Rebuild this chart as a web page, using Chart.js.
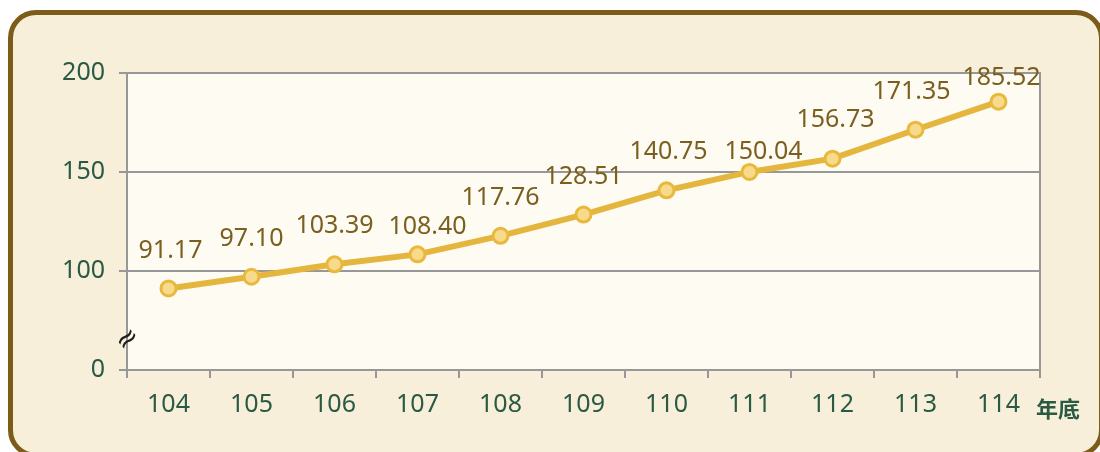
<!DOCTYPE html>
<html>
<head>
<meta charset="utf-8">
<script src="https://cdn.jsdelivr.net/npm/chart.js@4.4.1/dist/chart.umd.min.js"></script>
<style>
  html, body { margin: 0; padding: 0; background: #fff; width: 1100px; height: 452px; overflow: hidden; }
  .frame {
    position: absolute; left: 8px; top: 10px; width: 1086px; height: 438px;
    border: 5px solid #7b5c18; border-radius: 28px; background: #f7efd9;
  }
  .wrap { position: absolute; left: 0; top: 0; width: 1100px; height: 452px; }
</style>
</head>
<body>
<div class="frame"></div>
<div class="wrap"><canvas id="chart" width="1100" height="452"></canvas></div>
<script>
// data
const years = ['104', '105', '106', '107', '108', '109', '110', '111', '112', '113', '114'];
const values = [91.17, 97.10, 103.39, 108.40, 117.76, 128.51, 140.75, 150.04, 156.73, 171.35, 185.52];
const yTicks = [50, 100, 150, 200];          // 50 is shown as "0" (broken axis)
const yTickLabels = { 50: '0', 100: '100', 150: '150', 200: '200' };

// label nudges [dx, dy above point]
const labelShift = [[2, 38], [0, 38], [0, 38], [10, 27], [0, 38], [0, 38], [2, 38], [14, 20], [3, 39], [-4, 38], [3, 24]];

const lineColor = '#e4b63e';
const axisColor = '#979797';
const tickColor = '#2b5a44';
const labelColor = '#7a5f1f';
const font = '"Noto Sans", "Open Sans", sans-serif';

const decor = {
  id: 'decor',
  beforeDraw(chart) {
    const { ctx, chartArea: a } = chart;
    ctx.save();
    ctx.fillStyle = '#fefbf3';
    ctx.fillRect(a.left, a.top, a.right - a.left, a.bottom - a.top);
    ctx.restore();
  },
  afterDatasetsDraw(chart) {
    const { ctx, chartArea: a } = chart;
    ctx.save();
    // right border
    ctx.strokeStyle = axisColor;
    ctx.lineWidth = 2;
    ctx.beginPath();
    ctx.moveTo(a.right, a.top - 1);
    ctx.lineTo(a.right, a.bottom + 8);
    ctx.stroke();

    // value labels
    const meta = chart.getDatasetMeta(0);
    ctx.fillStyle = labelColor;
    ctx.font = '25px ' + font;
    ctx.textAlign = 'center';
    ctx.textBaseline = 'middle';
    meta.data.forEach((pt, i) => {
      const s = labelShift[i];
      ctx.fillText(values[i].toFixed(2), pt.x + s[0], pt.y - s[1]);
    });

    // axis break mark
    ctx.translate(a.left + 1, a.bottom - 30);
    ctx.rotate(-0.75);
    ctx.fillStyle = '#1e1e1e';
    ctx.font = '28px "DejaVu Sans", sans-serif';
    ctx.fillText('\u2248', 0, 0);
    ctx.restore();

    // unit
    ctx.save();
    ctx.fillStyle = tickColor;
    ctx.font = 'bold 22px "Noto Sans CJK TC", sans-serif';
    ctx.textAlign = 'left';
    ctx.textBaseline = 'middle';
    ctx.fillText('年底', 1036, 409);
    ctx.restore();
  }
};

new Chart(document.getElementById('chart'), {
  type: 'line',
  data: {
    labels: years,
    datasets: [{
      data: values,
      borderColor: lineColor,
      borderWidth: 6,
      pointRadius: 7.5,
      pointHoverRadius: 7.5,
      pointBackgroundColor: '#f8da8c',
      pointBorderColor: '#e8b93c',
      pointBorderWidth: 3,
      tension: 0
    }]
  },
  options: {
    responsive: false,
    animation: false,
    events: [],
    layout: { padding: { left: 0, right: 60, top: 73, bottom: 0 } },
    plugins: { legend: { display: false }, tooltip: { enabled: false } },
    scales: {
      x: {
        offset: true,
        grid: { offset: true, drawOnChartArea: false, color: axisColor, lineWidth: 2, tickLength: 8 },
        border: { color: axisColor, width: 2 },
        ticks: { color: tickColor, font: { family: font, size: 25 }, padding: 12 },
        afterFit(s) { s.height = 82; }
      },
      y: {
        min: 50,
        max: 200,
        afterBuildTicks(s) { s.ticks = yTicks.map(v => ({ value: v })); },
        grid: { color: axisColor, lineWidth: 2, tickLength: 8 },
        border: { color: axisColor, width: 2 },
        ticks: {
          color: tickColor,
          font: { family: font, size: 25 },
          padding: 14,
          callback: v => yTickLabels[v]
        },
        afterFit(s) { s.width = 127; }
      }
    }
  },
  plugins: [decor]
});
</script>
</body>
</html>
